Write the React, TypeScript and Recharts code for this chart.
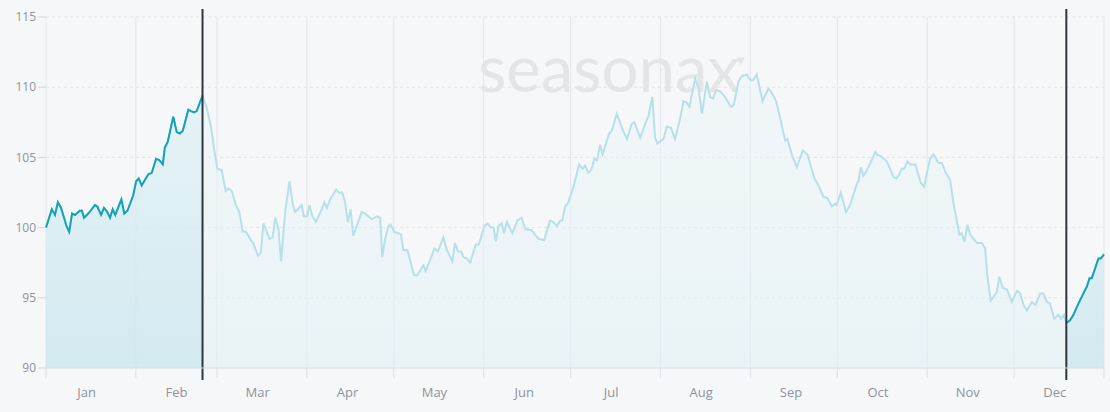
import { Area, AreaChart, CartesianGrid, ReferenceLine, XAxis, YAxis } from "recharts";

// seasonal index (x = day of year)
const dayOfYear = [
  0, 2, 3.1, 4.1, 5.2, 7.1, 8, 9, 10, 11.7, 12.4, 13.1, 14.6, 16.9, 17.7, 19, 20, 20.9, 22.1, 23, 23.9, 26, 27, 28.1,
  30.1, 31.1, 32, 33, 35.3, 36.5, 38, 39.1, 40.3, 41, 42, 43.9, 45.1, 46.2, 47.2, 49.1, 50, 51.1, 52, 54,
  55.5, 56.9, 58, 59.1, 60.6, 62, 62.9, 64.1, 65.5, 66.7, 67.9, 69, 70.4, 71.5, 73.1, 74.1, 75, 77.1, 78.2, 79.1,
  80.2, 81.1, 82.5, 84, 85.1, 85.9, 88.2, 89, 90.1, 90.9, 91.9, 93.1, 95.1, 96, 96.9, 98, 100.1, 101, 102.2, 103.2,
  104.1, 105.1, 106, 107.2, 108.9, 110.1, 111.2, 112.4, 114.3, 115.3, 116, 117, 118.1, 118.9, 120.1, 121.6, 122.5,
  123.3, 124.7, 127, 128.1, 130.2, 131, 132.3, 134, 135.2, 137.1, 138.3, 140.2, 141.1, 142.1, 143.2, 144, 145.2,
  146.3, 148.3, 149.2, 149.8, 151.2, 152.3, 153.5, 154.4, 155.2, 156.1, 157.2, 158, 159, 160.9, 162.6, 164.1, 165.3,
  167.6, 169.9, 171.8, 173.9, 175.1, 176.2, 177.4, 178.1, 179.1, 180, 182, 183.9, 185.1, 186, 187.1, 188.1, 189.2,
  190.1, 191.2, 192, 194.3, 195.2, 196.9, 198.7, 200.4, 202.1, 203, 205, 206.9, 207.8, 209.2, 210.1, 210.9, 213,
  214.2, 215.6, 217, 218.8, 219.9, 221.1, 222, 223.9, 225.1, 226.3, 228, 229.1, 230.1, 231.2, 232.6, 234.3, 236.3,
  237.2, 238.9, 240.1, 241.8, 243, 243.9, 245.2, 247.2, 249.2, 250.4, 251.9, 253.6, 255, 255.8, 257.3, 259, 261.1,
  262.7, 265.1, 266.5, 268.2, 269.6, 271.1, 272.3, 272.8, 274.2, 276, 277.4, 279.7, 280.3, 281.1, 282, 283, 284.6,
  286.1, 286.7, 288, 290.1, 292.4, 293.3, 294.1, 295.3, 296.1, 297.2, 298.1, 299.9, 301.8, 302.9, 305, 306.2, 307.9,
  309.1, 310.2, 311.9, 313.1, 314.3, 315.1, 315.9, 316.9, 317.9, 318.8, 319.6, 321.2, 322.9, 324, 324.8, 325.9, 328,
  328.9, 330.1, 331.5, 333.2, 335, 336.1, 337.2, 338.4, 340.1, 341.3, 343, 344.1, 345.3, 346.4, 347.8, 349.3, 350.2,
  351.2, 352, 353.3, 354.5, 356.2, 357.4, 359.1, 360, 360.8, 363.1, 363.9, 365,
];

const indexValue = [
  100.0, 101.3, 100.9, 101.8, 101.4, 100.1, 99.7, 101.0, 100.9, 101.2, 101.2, 100.7, 101.0, 101.6, 101.5, 100.9,
  101.4, 101.2, 100.7, 101.3, 100.9, 102.0, 101.0, 101.2, 102.3, 103.3, 103.5, 103.0, 103.8, 103.9, 104.9, 104.8,
  104.5, 105.7, 106.1, 107.9, 106.8, 106.7, 106.9, 108.4, 108.3, 108.2, 108.3, 109.4,
  108.5, 107.2, 105.6, 104.2, 104.1, 102.6, 102.8, 102.6, 101.6, 101.1, 99.7, 99.7, 99.2, 98.9, 98.0, 98.2, 100.3,
  99.2, 99.3, 100.7, 99.9, 97.6, 101.1, 103.3, 101.7, 101.1, 101.6, 100.8, 100.8, 101.6, 100.8, 100.4, 101.3, 101.8,
  101.4, 102.0, 102.7, 102.5, 102.5, 101.8, 100.4, 101.3, 99.4, 100.1, 101.1, 101.0, 100.8, 100.6, 100.8, 100.7,
  97.9, 99.2, 100.1, 100.2, 99.7, 99.6, 99.5, 98.4, 98.4, 96.6, 96.6, 97.3, 96.9, 97.6, 98.5, 98.3, 99.3, 98.4, 97.6,
  98.9, 98.3, 98.3, 97.9, 97.8, 97.5, 98.8, 98.8, 99.1, 100.1, 100.3, 100.0, 100.0, 99.0, 100.1, 100.3, 99.6, 100.4,
  99.6, 100.5, 100.7, 99.9, 99.8, 99.2, 99.1, 100.5, 100.4, 100.1, 100.5, 100.5, 101.5, 101.7, 102.9, 104.5, 104.2,
  104.4, 103.9, 104.1, 104.9, 104.8, 105.9, 105.2, 106.7, 106.9, 108.1, 107.1, 106.3, 107.4, 107.5, 106.4, 107.5,
  107.9, 109.3, 106.4, 106.0, 106.3, 107.2, 107.1, 106.3, 107.8, 109.0, 108.9, 108.6, 110.6, 110.0, 108.1, 110.4,
  109.3, 109.2, 109.8, 109.7, 109.3, 108.6, 108.7, 110.4, 110.8, 110.9, 110.5, 110.5, 110.9, 109.0, 109.9, 109.6,
  109.0, 107.5, 106.2, 106.3, 105.2, 104.3, 105.5, 105.2, 103.5, 103.0, 102.2, 102.1, 101.5, 101.7, 101.6, 102.5,
  101.1, 101.6, 103.1, 103.3, 104.3, 103.7, 104.0, 104.7, 105.4, 105.2, 105.1, 104.7, 103.6, 103.5, 103.7, 104.2,
  104.2, 104.7, 104.5, 104.5, 103.2, 102.9, 104.9, 105.2, 104.6, 104.6, 104.0, 103.4, 101.7, 100.4, 99.5, 99.6, 99.0,
  100.2, 99.5, 99.3, 98.9, 98.9, 98.5, 96.5, 94.8, 95.4, 96.5, 95.7, 95.6, 94.7, 95.5, 95.3, 94.5, 94.1, 94.7, 94.5,
  95.3, 95.3, 94.7, 94.6, 93.5, 93.8, 93.5, 93.8, 93.2, 93.4, 93.8, 94.6, 95.1, 95.8, 96.4, 96.4, 97.8, 97.8, 98.1,
];

const monthNames = ["Jan", "Feb", "Mar", "Apr", "May", "Jun", "Jul", "Aug", "Sep", "Oct", "Nov", "Dec"];
const monthStarts = [0, 31, 59, 90, 120, 151, 181, 212, 243, 273, 304, 334, 365];
const yTicks = [90, 95, 100, 105, 110, 115];

// seasonal window: from Dec 18 to Feb 23
const windowEnd = 54;
const windowStart = 352;

const rows = dayOfYear.map((day, i) => ({
  day,
  all: indexValue[i],
  hi: day <= windowEnd || day >= windowStart ? indexValue[i] : null,
}));

const labelTicks = monthStarts.slice(0, 12).map((d) => d + 14);

const axisText = { fill: "#8f949a", fontSize: 12, fontFamily: "Open Sans" };

const MarkerLine = (p: any) => (
  <line
    x1={p.x1}
    x2={p.x2}
    y1={Math.min(p.y1, p.y2) - 8}
    y2={Math.max(p.y1, p.y2) + 12}
    stroke="#2f3641"
    strokeWidth={2}
  />
);

export default function App() {
  return (
    <div style={{ position: "absolute", left: 0, top: 0, width: 1110, height: 412, background: "#f5f7f9" }}>
      <svg width={1110} height={412} style={{ position: "absolute", left: 0, top: 0 }}>
        <text
          x={478}
          y={92}
          textLength={262}
          lengthAdjust="spacingAndGlyphs"
          fontSize={64}
          fontFamily="Lato"
          fontWeight={400}
          fill="#e4e5e7"
        >
          seasonax
        </text>
        <text x={737} y={64} fontSize={10} fill="#e4e5e7" fontFamily="DejaVu Sans">
          ▼
        </text>
      </svg>
      <div style={{ position: "absolute", left: 0, top: 0 }}>
        <AreaChart width={1110} height={412} data={rows} margin={{ top: 17, right: 6, bottom: 0, left: 0 }}>
          <defs>
            <linearGradient id="fillAll" x1="0" y1="0" x2="0" y2="1">
              <stop offset="0%" stopColor="#eef6f8" stopOpacity={0.9} />
              <stop offset="100%" stopColor="#dff0f4" stopOpacity={0.9} />
            </linearGradient>
            <linearGradient id="fillHi" x1="0" y1="0" x2="0" y2="1">
              <stop offset="0%" stopColor="#dff0f4" stopOpacity={0.95} />
              <stop offset="100%" stopColor="#c2e3ec" stopOpacity={0.95} />
            </linearGradient>
          </defs>
          <CartesianGrid xAxisId="a" horizontal vertical={false} stroke="#e1e4e7" strokeDasharray="3 3" />
          <CartesianGrid xAxisId="a" horizontal={false} vertical stroke="#e3e6e9" />
          <XAxis
            xAxisId="b"
            dataKey="day"
            type="number"
            domain={[0, 365]}
            ticks={labelTicks}
            tickFormatter={(v: number) => monthNames[labelTicks.indexOf(v)]}
            height={34}
            axisLine={false}
            tickLine={false}
            tickMargin={4}
            tick={{ ...axisText, fontSize: 13 }}
          />
          <XAxis
            xAxisId="a"
            dataKey="day"
            type="number"
            domain={[0, 365]}
            ticks={monthStarts}
            tickFormatter={() => ""}
            height={10}
            tickSize={10}
            stroke="#dcdfe3"
            tick={axisText}
          />
          <YAxis
            domain={[90, 115]}
            ticks={yTicks}
            width={46}
            axisLine={false}
            tickSize={8}
            tickLine={{ stroke: "#d3d6da" }}
            tick={axisText}
          />
          <Area
            xAxisId="a"
            type="linear"
            dataKey="all"
            stroke="#b7e0e9"
            strokeWidth={2}
            fill="url(#fillAll)"
            isAnimationActive={false}
          />
          <Area
            xAxisId="a"
            type="linear"
            dataKey="hi"
            stroke="#12a3b9"
            strokeWidth={2}
            fill="url(#fillHi)"
            connectNulls={false}
            isAnimationActive={false}
          />
          <ReferenceLine xAxisId="a" x={windowEnd} shape={MarkerLine} />
          <ReferenceLine xAxisId="a" x={windowStart} shape={MarkerLine} />
        </AreaChart>
      </div>
    </div>
  );
}
